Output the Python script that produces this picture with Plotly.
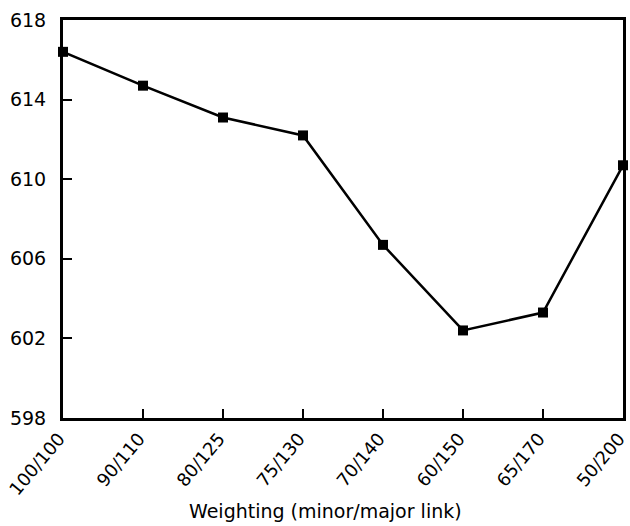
import plotly.graph_objects as go

categories = ["100/100", "90/110", "80/125", "75/130", "70/140", "60/150", "65/170", "50/200"]
values = [616.4, 614.7, 613.1, 612.2, 606.7, 602.4, 603.3, 610.7]
y_ticks = [598, 602, 606, 610, 614, 618]
x_title = "Weighting (minor/major link)"

fig = go.Figure()
fig.add_trace(go.Scatter(
    x=list(range(len(categories))), y=values, mode="lines+markers",
    line=dict(color="black", width=2.5),
    marker=dict(symbol="square", size=10, color="black"),
    cliponaxis=False, showlegend=False,
))
fig.update_layout(
    width=630, height=526,
    margin=dict(l=63, r=7, t=20, b=108, autoexpand=False),
    paper_bgcolor="white", plot_bgcolor="white",
    font=dict(family="DejaVu Sans, Liberation Sans, sans-serif", size=19, color="black"),
    xaxis=dict(
        range=[0, len(categories) - 1], tickmode="array",
        tickvals=list(range(len(categories))), ticktext=categories,
        tickangle=-50, ticks="inside", ticklen=9, tickwidth=2, tickcolor="black",
        tickfont=dict(size=18), ticklabeloverflow="allow", ticklabelshift=-4,
        showline=True, linecolor="black", linewidth=3, mirror=True,
        showgrid=False, zeroline=False, automargin=False,
    ),
    yaxis=dict(
        range=[598, 618], tickmode="array", tickvals=y_ticks,
        ticks="inside", ticklen=9, tickwidth=2, tickcolor="black",
        ticklabelstandoff=10,
        showline=True, linecolor="black", linewidth=3, mirror=True,
        showgrid=False, zeroline=False, automargin=False,
    ),
    annotations=[dict(
        text=x_title, xref="paper", yref="paper", x=0.4696, y=-0.2337,
        xanchor="center", yanchor="middle", showarrow=False, font=dict(size=19),
    )],
)
fig.write_html("out.html", config={"displayModeBar": False},
               post_script="document.body.style.margin='0';")
